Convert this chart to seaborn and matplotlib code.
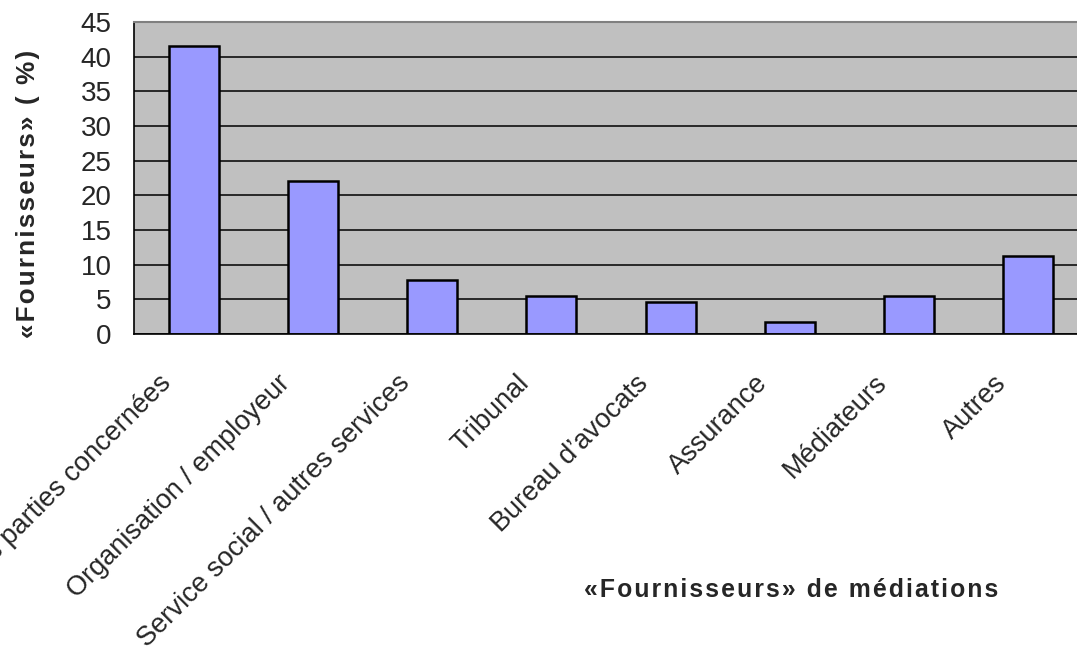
import numpy as np
import pandas as pd
import matplotlib
matplotlib.use('Agg')
import matplotlib.pyplot as plt
import matplotlib.transforms as mtransforms
import seaborn as sns

# data
categories = ['Les parties concernées', 'Organisation / employeur',
              'Service social / autres services', 'Tribunal',
              "Bureau d’avocats", 'Assurance', 'Médiateurs', 'Autres']
percent = [41.5, 22.0, 7.8, 5.5, 4.6, 1.7, 5.5, 11.2]
y_ticks = [0, 5, 10, 15, 20, 25, 30, 35, 40, 45]

df = pd.DataFrame({'fournisseur': categories, 'pct': percent})

sns.set_style('white')
plt.rcParams['font.family'] = ['Liberation Sans', 'DejaVu Sans']


def spaced(txt):
    # the original titles are slightly letter-spaced
    return '\u200a'.join(txt)


fig = plt.figure(figsize=(10.77, 6.52), dpi=100)
ax = fig.add_axes([0.1244, 0.4877, 0.8858, 0.4786])
ax.set_facecolor('#c0c0c0')

sns.barplot(data=df, x='fournisseur', y='pct', color='#9999ff',
            saturation=1, width=0.42, edgecolor='black', linewidth=1.8, ax=ax)

ax.set_xlim(-0.5, len(categories) - 0.5)
ax.set_ylim(0, 45)
ax.set_yticks(y_ticks)
ax.yaxis.grid(True, color='black', linewidth=1.1)
ax.set_axisbelow(True)

ax.spines['right'].set_visible(False)
ax.spines['top'].set_color('#808080')
ax.spines['top'].set_linewidth(1.5)
ax.spines['left'].set_color('black')
ax.spines['left'].set_linewidth(1.2)
ax.spines['bottom'].set_color('black')
ax.spines['bottom'].set_linewidth(1.2)

# ticks at category boundaries, labels in the middle
ax.set_xticks(np.arange(len(categories) + 1) - 0.5, minor=False)
ax.set_xticklabels([])
ax.set_xticks(np.arange(len(categories)), minor=True)
ax.set_xticklabels(categories, minor=True, rotation=45, ha='right',
                   va='top', fontsize=19.5)
ax.tick_params(axis='x', which='major', direction='out', length=7,
               width=1, color='black')
ax.tick_params(axis='x', which='minor', length=0, pad=26)
ax.tick_params(axis='y', direction='out', length=8, width=1, color='black',
               labelsize=20, pad=8)

offset = mtransforms.ScaledTranslation(-17 / 100, 0, fig.dpi_scale_trans)
for lab in ax.get_xticklabels(minor=True):
    lab.set_transform(lab.get_transform() + offset)

ax.set_xlabel('')
ax.set_ylabel('')
fig.text(0.026, 0.703, spaced('«Fournisseurs» ( %)'), rotation=90,
         ha='center', va='center', fontsize=18.8, fontweight='bold')
fig.text(0.735, 0.095, spaced('«Fournisseurs» de médiations'), ha='center',
         va='center', fontsize=17.8, fontweight='bold')

fig.savefig('out.png', dpi=100)
